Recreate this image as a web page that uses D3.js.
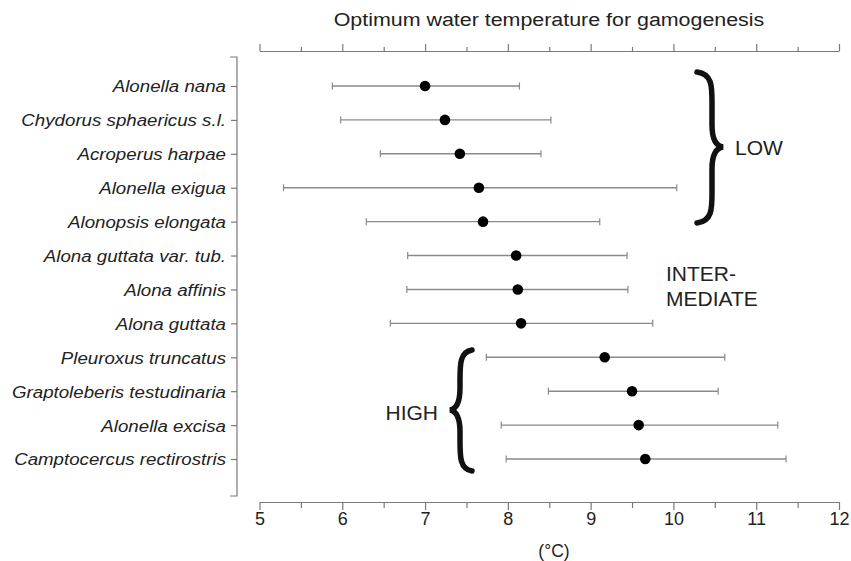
<!DOCTYPE html>
<html>
<head>
<meta charset="utf-8">
<script src="https://d3js.org/d3.v7.min.js"></script>
<style>
  body { margin: 0; background: #fff; }
  text { font-family: "Liberation Sans", Arial, sans-serif; fill: #222; }
</style>
</head>
<body>
<svg width="851" height="561"></svg>
<script>
// species, top to bottom
var species = ["Alonella nana", "Chydorus sphaericus s.l.", "Acroperus harpae", "Alonella exigua",
  "Alonopsis elongata", "Alona guttata var. tub.", "Alona affinis", "Alona guttata",
  "Pleuroxus truncatus", "Graptoleberis testudinaria", "Alonella excisa", "Camptocercus rectirostris"];
var optimum = [7.00, 7.24, 7.42, 7.65, 7.70, 8.10, 8.12, 8.16, 9.17, 9.50, 9.58, 9.66];
var lower   = [5.88, 5.98, 6.46, 5.29, 6.29, 6.79, 6.78, 6.58, 7.74, 8.49, 7.92, 7.98];
var upper   = [8.14, 8.52, 8.40, 10.04, 9.11, 9.44, 9.45, 9.75, 10.62, 10.54, 11.26, 11.36];
var tickValues = [5, 6, 7, 8, 9, 10, 11, 12];

var svg = d3.select("svg");
var grey = "#7a7a7a";

var x = d3.scaleLinear().domain([5, 12]).range([259.5, 839]);
var y = d3.scalePoint().domain(species).range([86, 459]);

// bottom axis
var bottomAxis = svg.append("g").attr("transform", "translate(0,502)");
bottomAxis.call(d3.axisBottom(x).tickValues(tickValues).tickSize(8).tickSizeOuter(0).tickFormat(d3.format("d")));
bottomAxis.append("g").call(d3.axisBottom(x).tickValues(d3.range(5.5, 12, 1)).tickSize(6).tickFormat(""))
  .select(".domain").remove();
bottomAxis.selectAll("text").attr("dy", "0").attr("y", 23).style("font-size", "18px");

// top axis
var topAxis = svg.append("g").attr("transform", "translate(0,51)");
topAxis.call(d3.axisTop(x).tickValues(tickValues).tickSize(7).tickSizeOuter(0).tickFormat(""));
topAxis.append("g").call(d3.axisTop(x).tickValues(d3.range(5.5, 12, 1)).tickSize(4).tickFormat(""))
  .select(".domain").remove();

// left axis
var leftAxis = svg.append("g").attr("transform", "translate(237,0)");
leftAxis.call(d3.axisLeft(y).tickSize(6).tickSizeOuter(0).tickPadding(5));
leftAxis.select(".domain").attr("d", "M-7,57H0V496H-7");
leftAxis.selectAll("text")
  .attr("x", 0).attr("dy", "0.35em")
  .attr("transform", "translate(-11,0) scale(1.1,1)")
  .style("font-size", "17px").style("font-style", "italic");

svg.selectAll(".domain, .tick line").attr("stroke", grey).attr("stroke-width", 1.2);
svg.selectAll(".tick text").attr("fill", "#222").style("font-family", "Liberation Sans, Arial, sans-serif");

// error bars
var rows = species.map(function(s, i) { return { name: s, opt: optimum[i], lo: lower[i], hi: upper[i] }; });
var bars = svg.append("g").selectAll("g").data(rows).enter().append("g")
  .attr("transform", function(d) { return "translate(0," + y(d.name) + ")"; });
bars.append("line").attr("x1", function(d) { return x(d.lo); }).attr("x2", function(d) { return x(d.hi); })
  .attr("stroke", "#8a8a8a").attr("stroke-width", 1.4);
bars.append("line").attr("x1", function(d) { return x(d.lo); }).attr("x2", function(d) { return x(d.lo); })
  .attr("y1", -3.5).attr("y2", 3.5).attr("stroke", "#8a8a8a").attr("stroke-width", 1.2);
bars.append("line").attr("x1", function(d) { return x(d.hi); }).attr("x2", function(d) { return x(d.hi); })
  .attr("y1", -3.5).attr("y2", 3.5).attr("stroke", "#8a8a8a").attr("stroke-width", 1.2);
bars.append("circle").attr("cx", function(d) { return x(d.opt); }).attr("r", 5.3).attr("fill", "#000");

// titles
svg.append("text").attr("x", 549).attr("y", 26.5).attr("text-anchor", "middle")
  .attr("transform", "translate(549,0) scale(1.19,1) translate(-549,0)")
  .style("font-size", "18px").text("Optimum water temperature for gamogenesis");
svg.append("text").attr("x", 554).attr("y", 557).attr("text-anchor", "middle")
  .style("font-size", "17.5px").text("(°C)");

// braces
function brace(xEnd, xSpine, xTip, y0, yTip, y1) {
  var d = xSpine - xEnd;
  return "M" + xEnd + "," + y0 +
    "C" + (xEnd + d) + "," + (y0 + 2) + " " + xSpine + "," + (y0 + 14) + " " + xSpine + "," + (y0 + 30) +
    "L" + xSpine + "," + (yTip - 22) +
    "C" + xSpine + "," + (yTip - 8) + " " + (xSpine + (xTip - xSpine) * 0.4) + "," + (yTip - 1) + " " + xTip + "," + yTip +
    "C" + (xSpine + (xTip - xSpine) * 0.4) + "," + (yTip + 1) + " " + xSpine + "," + (yTip + 8) + " " + xSpine + "," + (yTip + 22) +
    "L" + xSpine + "," + (y1 - 30) +
    "C" + xSpine + "," + (y1 - 14) + " " + (xEnd + d) + "," + (y1 - 2) + " " + xEnd + "," + y1;
}
svg.append("path").attr("d", brace(697, 712, 723, 72, 147, 223))
  .attr("fill", "none").attr("stroke", "#111").attr("stroke-width", 5.5).attr("stroke-linecap", "round");
svg.append("path").attr("d", brace(472, 460, 450, 350, 410, 471))
  .attr("fill", "none").attr("stroke", "#111").attr("stroke-width", 5.5).attr("stroke-linecap", "round");

svg.append("text").attr("x", 735).attr("y", 155).style("font-size", "21px").text("LOW");
svg.append("text").attr("x", 438).attr("y", 420).attr("text-anchor", "end").style("font-size", "21px").text("HIGH");
svg.append("text").attr("x", 666).attr("y", 281).style("font-size", "21px").text("INTER-");
svg.append("text").attr("x", 666).attr("y", 306).style("font-size", "21px").text("MEDIATE");
</script>
</body>
</html>
